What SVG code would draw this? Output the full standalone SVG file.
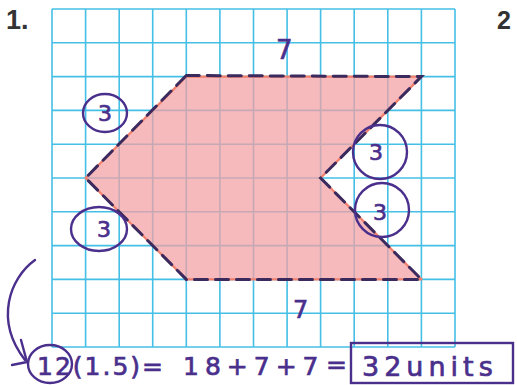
<svg xmlns="http://www.w3.org/2000/svg" width="517" height="385" viewBox="0 0 517 385">
<defs>
<style>
.grid line{stroke:#45bfe6;stroke-width:1.6}
.hand{font-family:"DejaVu Sans","Liberation Sans",sans-serif;fill:#4a2f8c;stroke:#4a2f8c;stroke-width:0.7}
.ring{fill:none;stroke:#4a2f8c;stroke-width:2.4}
.dash{fill:none;stroke:#3b2a5e;stroke-width:3;stroke-dasharray:13 8;stroke-linecap:round}
.num{font-family:"Liberation Sans","DejaVu Sans",sans-serif;font-weight:bold;fill:#333}
</style>
</defs>
<rect width="517" height="385" fill="#fff"/>
<text class="num" x="6" y="29" font-size="27">1.</text>
<text class="num" x="497" y="29" font-size="25">2</text>
<g id="grid" class="grid">
<line x1="52" y1="9" x2="52" y2="347"/>
<line x1="85.6" y1="9" x2="85.6" y2="347"/>
<line x1="119.2" y1="9" x2="119.2" y2="347"/>
<line x1="152.7" y1="9" x2="152.7" y2="347"/>
<line x1="186.3" y1="9" x2="186.3" y2="347"/>
<line x1="219.9" y1="9" x2="219.9" y2="347"/>
<line x1="253.5" y1="9" x2="253.5" y2="347"/>
<line x1="287.1" y1="9" x2="287.1" y2="347"/>
<line x1="320.6" y1="9" x2="320.6" y2="347"/>
<line x1="354.2" y1="9" x2="354.2" y2="347"/>
<line x1="387.8" y1="9" x2="387.8" y2="347"/>
<line x1="421.4" y1="9" x2="421.4" y2="347"/>
<line x1="455" y1="9" x2="455" y2="347"/>
<line x1="52" y1="9" x2="455" y2="9"/>
<line x1="52" y1="42.8" x2="455" y2="42.8"/>
<line x1="52" y1="76.6" x2="455" y2="76.6"/>
<line x1="52" y1="110.4" x2="455" y2="110.4"/>
<line x1="52" y1="144.2" x2="455" y2="144.2"/>
<line x1="52" y1="178" x2="455" y2="178"/>
<line x1="52" y1="211.8" x2="455" y2="211.8"/>
<line x1="52" y1="245.6" x2="455" y2="245.6"/>
<line x1="52" y1="279.4" x2="455" y2="279.4"/>
<line x1="52" y1="313.2" x2="455" y2="313.2"/>
<line x1="52" y1="347" x2="455" y2="347"/>
</g>
<g id="shape">
<polygon points="186.3,76.6 421.4,76.6 320.6,178 421.4,279.4 186.3,279.4 85.6,178" fill="#f3a2a6" fill-opacity="0.75" stroke="#f2806c" stroke-width="2.2" stroke-linejoin="round"/>
<polyline class="dash" points="186.3,75.5 421.4,76.6 320.6,178 421.4,279.4 186.3,279.4 85.6,178 186.3,75.5"/>
</g>
<g id="labels">
<text class="hand" x="276" y="59" font-size="26">7</text>
<text class="hand" x="293" y="318" font-size="24">7</text>
<g id="c1"><ellipse class="ring" cx="105" cy="113" rx="22" ry="19"/><text class="hand" x="105" y="121" font-size="22" text-anchor="middle">3</text></g>
<g id="c2"><ellipse class="ring" cx="99" cy="229" rx="28" ry="22"/><text class="hand" x="104" y="237" font-size="22" text-anchor="middle">3</text></g>
<g id="c3"><ellipse class="ring" cx="380" cy="152" rx="27" ry="27"/><text class="hand" x="376" y="160" font-size="22" text-anchor="middle">3</text></g>
<g id="c4"><ellipse class="ring" cx="382" cy="210" rx="27" ry="27"/><text class="hand" x="380" y="220" font-size="22" text-anchor="middle">3</text></g>
</g>
<g id="equation">
<ellipse class="ring" cx="50" cy="364" rx="22" ry="19"/>
<text class="hand" x="37" y="375" font-size="25" letter-spacing="2">12(1.5)=</text>
<text class="hand" x="183" y="375" font-size="25" letter-spacing="6">18+7+7</text>
<text class="hand" x="326" y="373" font-size="25">=</text>
<rect x="351" y="343" width="162" height="40" fill="none" stroke="#4a2f8c" stroke-width="2.4"/>
<text class="hand" x="362" y="376" font-size="27" letter-spacing="5">32units</text>
</g>
<g id="connectors">
<path d="M35,260 C10,278 -6,320 25,360" fill="none" stroke="#4a2f8c" stroke-width="2.4" stroke-linecap="round"/>
<path d="M21,340 L27,362 L12,365" fill="none" stroke="#4a2f8c" stroke-width="2.4" stroke-linecap="round" stroke-linejoin="round"/>
</g>
</svg>
